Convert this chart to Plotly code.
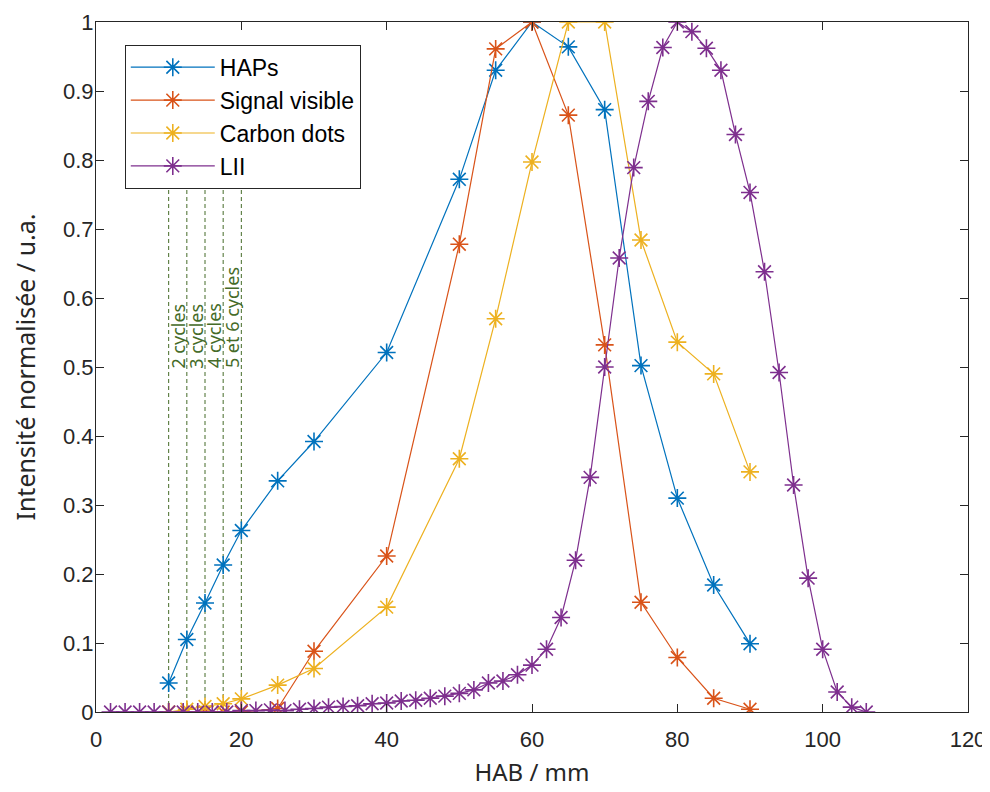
import plotly.graph_objects as go

# ---------------- data ----------------
hap_x = [10, 12.5, 15, 17.5, 20, 25, 30, 40, 50, 55, 60, 65, 70, 75, 80, 85, 90]
hap_y = [0.042, 0.105, 0.158, 0.213, 0.263, 0.335, 0.392, 0.521, 0.772, 0.930, 1.0,
         0.964, 0.873, 0.502, 0.310, 0.184, 0.099]

sig_x = [10, 12.5, 15, 17.5, 20, 25, 30, 40, 50, 55, 60, 65, 70, 75, 80, 85, 90]
sig_y = [0.0, 0.0, 0.0, 0.0, 0.0, 0.005, 0.088, 0.226, 0.678, 0.961, 1.0,
         0.865, 0.532, 0.159, 0.079, 0.020, 0.004]

cd_x = [10, 12.5, 15, 17.5, 20, 25, 30, 40, 50, 55, 60, 65, 70, 75, 80, 85, 90]
cd_y = [0.0, 0.004, 0.008, 0.012, 0.019, 0.039, 0.063, 0.152, 0.367, 0.570, 0.797,
        1.0, 1.0, 0.684, 0.536, 0.490, 0.348]

lii_x = [2, 4, 6, 8, 10, 12, 14, 16, 18, 20, 22, 24, 26, 28, 30, 32, 34, 36, 38, 40,
         42, 44, 46, 48, 50, 52, 54, 56, 58, 60, 62, 64, 66, 68, 70, 72, 74, 76, 78,
         80, 82, 84, 86, 88, 90, 92, 94, 96, 98, 100, 102, 104, 106]
lii_y = [0.0, 0.0, 0.0, 0.0, 0.0, 0.0, 0.0, 0.0, 0.0, 0.002, 0.002, 0.003, 0.002,
         0.004, 0.005, 0.007, 0.008, 0.009, 0.012, 0.013, 0.016, 0.017, 0.020, 0.023,
         0.027, 0.032, 0.042, 0.045, 0.054, 0.068, 0.091, 0.137, 0.220, 0.340, 0.500,
         0.658, 0.789, 0.885, 0.963, 1.0, 0.986, 0.962, 0.930, 0.837, 0.753, 0.638,
         0.492, 0.329, 0.194, 0.091, 0.029, 0.007, 0.0]

cycle_x = [10, 12.5, 15, 17.5, 20]
cycle_labels = ["2 cycles", "3 cycles", "4 cycles", "5 et 6 cycles"]

x_ticks = [0, 20, 40, 60, 80, 100, 120]
y_ticks = [0, 0.1, 0.2, 0.3, 0.4, 0.5, 0.6, 0.7, 0.8, 0.9, 1]
y_tick_text = ["0", "0.1", "0.2", "0.3", "0.4", "0.5", "0.6", "0.7", "0.8", "0.9", "1"]

series = [
    ("HAPs", hap_x, hap_y, "#0072BD"),
    ("Signal visible", sig_x, sig_y, "#D95319"),
    ("Carbon dots", cd_x, cd_y, "#EDB120"),
    ("LII", lii_x, lii_y, "#7E2F8E"),
]

GREEN = "#456b28"
AX = "#262626"

fig = go.Figure()

# dashed vertical cycle lines
for cx in cycle_x:
    fig.add_trace(go.Scatter(
        x=[cx, cx], y=[0, 0.77], mode="lines",
        line=dict(color=GREEN, width=1, dash="4px,3px"),
        showlegend=False, hoverinfo="skip"))

for name, xs, ys, col in series:
    fig.add_trace(go.Scatter(
        x=xs, y=ys, mode="lines+markers", name=name,
        line=dict(color=col, width=1.2),
        marker=dict(symbol="asterisk-open", size=15, color=col,
                    line=dict(color=col, width=1.6)),
    ))

for cx, lab in zip(cycle_x[:-1], cycle_labels):
    fig.add_annotation(
        x=cx, y=0.495, xref="x", yref="y", text=lab, showarrow=False,
        textangle=-90, xanchor="left", yanchor="bottom", xshift=-5,
        font=dict(family="Noto Sans, Open Sans, sans-serif", size=18, color=GREEN))

# page body adds an 8px offset; size the figure to fit the 990x792 window
fig.update_layout(
    width=982, height=784,
    margin=dict(l=88, r=22, t=14, b=80),
    paper_bgcolor="white", plot_bgcolor="white",
    font=dict(family="Liberation Sans, Arial, sans-serif", size=20, color=AX),
    showlegend=True,
    legend=dict(
        x=0.033, y=0.967, xanchor="left", yanchor="top",
        bgcolor="white", bordercolor=AX, borderwidth=1,
        font=dict(family="Liberation Sans, Arial, sans-serif", size=23, color="black"),
        itemwidth=84, tracegroupgap=0,
    ),
)

fig.update_xaxes(
    range=[0, 120], tickvals=x_ticks, ticks="inside", ticklen=8, tickcolor=AX,
    showline=True, linecolor=AX, linewidth=1, mirror="allticks",
    showgrid=False, zeroline=False, automargin=False, ticklabelstandoff=8,
    tickfont=dict(family="Liberation Sans, Arial, sans-serif", size=22, color=AX),
    title=dict(text="HAB / mm", standoff=12,
               font=dict(family="Noto Sans, Open Sans, sans-serif", size=24, color=AX)),
)
fig.update_yaxes(
    range=[0, 1], tickvals=y_ticks, ticktext=y_tick_text, ticks="inside", ticklen=8,
    tickcolor=AX, showline=True, linecolor=AX, linewidth=1, mirror="allticks",
    showgrid=False, zeroline=False, automargin=False, ticklabelstandoff=-3,
    tickfont=dict(family="Liberation Sans, Arial, sans-serif", size=22, color=AX),
    title=dict(text="Intensité normalisée / u.a.", standoff=34,
               font=dict(family="Noto Sans, Open Sans, sans-serif", size=25, color=AX)),
)

fig.write_html("out.html")
